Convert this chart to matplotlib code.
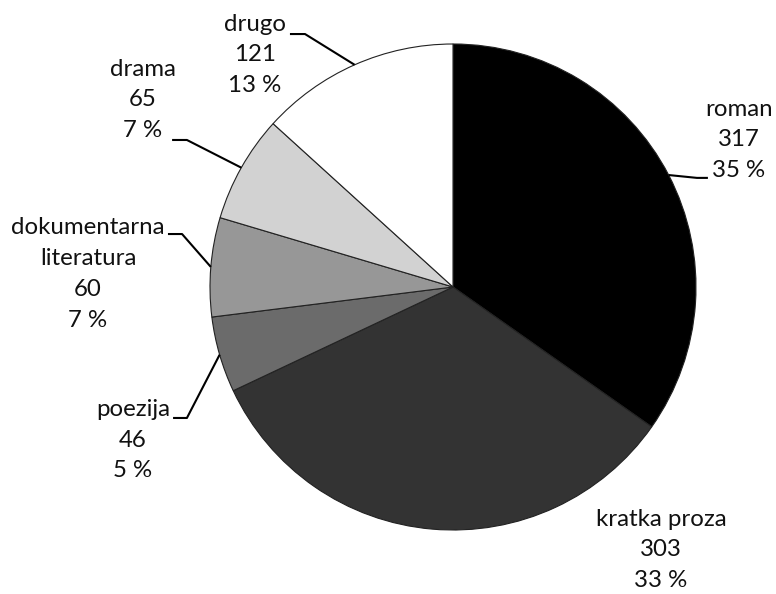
import numpy as np
import matplotlib
matplotlib.use("Agg")
import matplotlib.pyplot as plt

plt.rcParams['font.family'] = ['Lato', 'DejaVu Sans']

categories = ["roman", "kratka proza", "poezija", "dokumentarna\nliteratura", "drama", "drugo"]
values = [317, 303, 46, 60, 65, 121]
percents = ["35 %", "33 %", "5 %", "7 %", "7 %", "13 %"]
colors = ["#000000", "#333333", "#6b6b6b", "#979797", "#d2d2d2", "#ffffff"]

# label layout (axes data units, pie radius = 1): text centre, elbow, end of horizontal
label_pos = [(1.177, 0.605), (0.856, -1.082), (-1.317, -0.630), (-1.502, 0.053), (-1.276, 0.770), (-0.815, 0.955)]
elbows = [(1.004, 0.449), None, (-1.095, -0.539), (-1.115, 0.218), (-1.095, 0.605), (-0.609, 1.041)]
ends = [(1.049, 0.449), None, (-1.152, -0.539), (-1.173, 0.218), (-1.156, 0.605), (-0.671, 1.041)]

fig = plt.figure(figsize=(7.76, 5.94), dpi=100)
ax = fig.add_axes([210 / 776, 64 / 594, 486 / 776, 486 / 594])
wedges, _ = ax.pie(values, colors=colors, startangle=90, counterclock=False, radius=1,
                   wedgeprops=dict(edgecolor="#222222", linewidth=0.8))
ax.set_xlim(-1, 1)
ax.set_ylim(-1, 1)
ax.set_aspect('auto')
ax.axis('off')

total = sum(values)
cum = 0
for i, v in enumerate(values):
    mid = 90 - (cum + v / 2) / total * 360
    cum += v
    ex, ey = np.cos(np.radians(mid)), np.sin(np.radians(mid))
    tx, ty = label_pos[i]
    ax.text(tx, ty, f"{categories[i]}\n{v}\n{percents[i]}", ha="center", va="center",
            fontsize=17.3, linespacing=1.58, color="#111111", clip_on=False)
    if elbows[i] is not None:
        xs = [ex, elbows[i][0], ends[i][0]]
        ys = [ey, elbows[i][1], ends[i][1]]
        ax.plot(xs, ys, color="#000000", linewidth=1.5, clip_on=False, solid_capstyle="butt")

fig.savefig("out.png", dpi=100)
